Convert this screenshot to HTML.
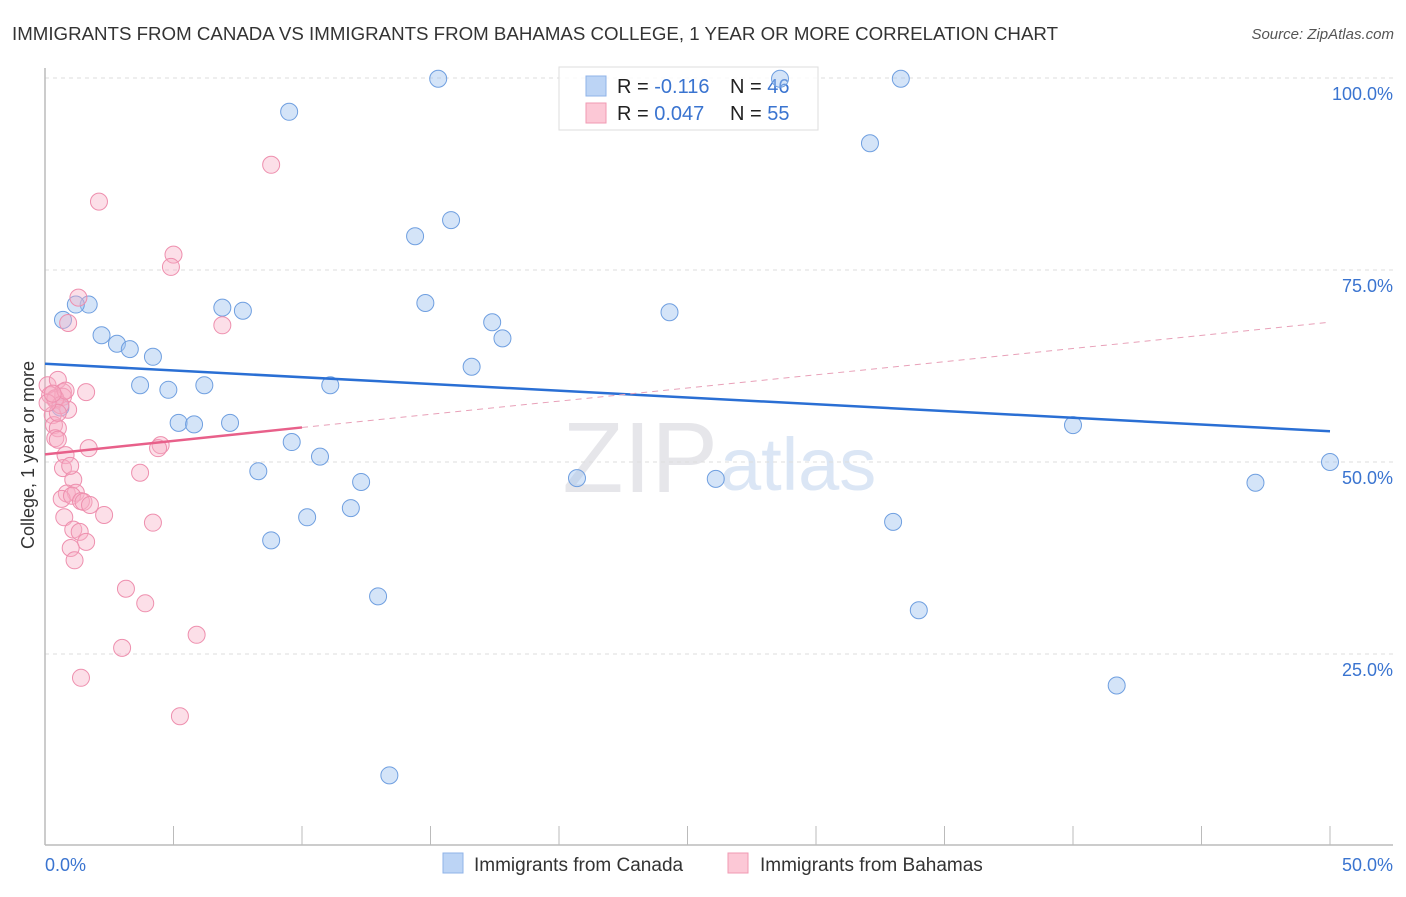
<!DOCTYPE html>
<html><head><meta charset="utf-8"><style>
body{margin:0;background:#fff;font-family:"Liberation Sans",sans-serif}
svg text{font-family:"Liberation Sans",sans-serif}
</style></head><body>
<svg id="chart" width="1406" height="892" xmlns="http://www.w3.org/2000/svg">
<text x="12" y="40" font-size="18" fill="#333" textLength="1046" lengthAdjust="spacingAndGlyphs">IMMIGRANTS FROM CANADA VS IMMIGRANTS FROM BAHAMAS COLLEGE, 1 YEAR OR MORE CORRELATION CHART</text>
<text x="1394" y="39" font-size="15" fill="#555" font-style="italic" text-anchor="end">Source: ZipAtlas.com</text>
<text x="718" y="492" font-size="100" fill="#e6e6ea" text-anchor="end" font-family="Liberation Serif">ZIP</text>
<text x="720" y="490" font-size="74" fill="#dbe6f5">atlas</text>
<text transform="translate(34,455) rotate(-90)" font-size="18" fill="#333" text-anchor="middle">College, 1 year or more</text>
<g id="grid"></g><g id="axes"></g>
<g>
<rect x="559" y="67" width="259" height="63" fill="rgba(255,255,255,0.85)" stroke="#ddd"/>
<rect x="586" y="76" width="20" height="20" fill="#bcd4f5" stroke="#8fb3e8"/>
<rect x="586" y="103" width="20" height="20" fill="#fcc8d6" stroke="#f09ab3"/>
<text x="617" y="93" font-size="20" fill="#222">R = <tspan fill="#3a74d0">-0.116</tspan></text>
<text x="730" y="93" font-size="20" fill="#222">N = <tspan fill="#3a74d0">46</tspan></text>
<text x="617" y="120" font-size="20" fill="#222">R = <tspan fill="#3a74d0">0.047</tspan></text>
<text x="730" y="120" font-size="20" fill="#222">N = <tspan fill="#3a74d0">55</tspan></text>
</g>
<g id="marks"></g>
<g>
<rect x="443" y="853" width="20" height="20" fill="#bcd4f5" stroke="#8fb3e8"/>
<text x="474" y="871" font-size="19" fill="#333">Immigrants from Canada</text>
<rect x="728" y="853" width="20" height="20" fill="#fcc8d6" stroke="#f09ab3"/>
<text x="760" y="871" font-size="19" fill="#333">Immigrants from Bahamas</text>
</g>
</svg>
<script>
const yTicks=[25,50,75,100];
const yTickLabels=["25.0%","50.0%","75.0%","100.0%"];
const xTickLabels=["0.0%","50.0%"];
const canadaX=[15.3,9.5,28.6,33.3,32.1,15.8,14.4,14.8,1.7,1.2,0.7,6.9,7.7,24.3,17.4,17.8,2.2,2.8,3.3,4.2,16.6,3.7,4.8,6.2,11.1,5.2,5.8,7.2,40.0,9.6,10.7,8.3,12.3,20.7,26.1,50.0,47.1,11.9,10.2,33.0,8.8,12.96,34.0,41.7,13.4,0.6];
const canadaY=[99.9,95.6,99.9,99.9,91.5,81.5,79.4,70.7,70.5,70.5,68.5,70.1,69.7,69.5,68.2,66.1,66.5,65.4,64.7,63.7,62.4,60.0,59.4,60.0,60.0,55.1,54.9,55.1,54.8,52.6,50.7,48.8,47.4,47.9,47.8,50.0,47.3,44.0,42.8,42.2,39.8,32.5,30.7,20.9,9.2,57.1];
const bahamasX=[8.8,2.1,5.0,4.9,1.3,0.9,6.9,0.1,0.5,1.6,0.7,0.2,0.7,0.4,0.9,0.3,0.35,0.5,0.4,0.5,1.7,4.5,4.4,0.8,0.7,3.7,1.1,0.85,1.2,0.65,1.05,1.4,1.5,2.3,0.75,4.2,1.1,1.35,1.6,1.0,1.15,3.15,3.9,5.9,3.0,1.4,5.25,0.4,0.6,0.8,0.5,0.1,0.98,0.3,1.75];
const bahamasY=[88.7,83.9,77.0,75.4,71.4,68.1,67.8,60.0,60.7,59.1,59.1,58.7,58.5,58.1,56.8,56.1,54.8,54.4,53.1,52.9,51.8,52.2,51.8,50.9,49.2,48.6,47.7,45.9,46.0,45.2,45.6,44.9,44.8,43.1,42.8,42.1,41.2,40.9,39.6,38.8,37.2,33.5,31.6,27.5,25.8,21.9,16.9,58.3,57.4,59.3,56.4,57.7,49.5,58.9,44.4];
const canadaTrend=[[0,62.8],[50,54.0]];
const bahamasTrendSolid=[[0,51.0],[10,54.5]];
const bahamasTrendDash=[[10,54.5],[50,68.2]];
const NS="http://www.w3.org/2000/svg";
const X=v=>45+v*25.7, Y=v=>846-v*7.68;
function mk(tag,attrs,parent){const e=document.createElementNS(NS,tag);for(const k in attrs)e.setAttribute(k,attrs[k]);document.getElementById(parent).appendChild(e);return e;}
yTicks.forEach((t,i)=>{
 const g=mk('line',{x1:45,x2:1393,y1:Y(t),y2:Y(t),stroke:'#ddd','stroke-dasharray':'4,4'},'grid');
 
 
 const l=mk('text',{x:1393,y:Y(t)+22,'font-size':18,fill:'#3a74d0','text-anchor':'end'},'grid');
 l.textContent=yTickLabels[i];
 
 
});
const ax=mk('line',{x1:45,x2:1393,y1:845,y2:845,stroke:'#bbb','stroke-width':1.5},'axes');


const ay=mk('line',{x1:45,x2:45,y1:68,y2:845,stroke:'#bbb','stroke-width':1.5},'axes');


for(let i=0;i<=10;i++){
 const t=mk('line',{x1:X(i*5),x2:X(i*5),y1:826,y2:845,stroke:'#bbb'},'axes');
 
 
}
[[0,'start',45],[50,'end',1393]].forEach((d,i)=>{
 const l=mk('text',{x:d[2],y:871,'font-size':18,fill:'#3a74d0','text-anchor':d[1]},'axes');
 l.textContent=xTickLabels[i];
 
 
});
canadaX.forEach((v,i)=>{
 const c=mk('circle',{cx:X(v),cy:Y(canadaY[i]),r:8.5,fill:'rgba(160,196,240,0.45)',stroke:'#6f9fe0','stroke-width':1},'marks');
 
 
});
bahamasX.forEach((v,i)=>{
 const c=mk('circle',{cx:X(v),cy:Y(bahamasY[i]),r:8.5,fill:'rgba(248,176,198,0.4)',stroke:'#ee8fae','stroke-width':1},'marks');
 
 
});
const t1=mk('line',{x1:X(canadaTrend[0][0]),y1:Y(canadaTrend[0][1]),x2:X(canadaTrend[1][0]),y2:Y(canadaTrend[1][1]),stroke:'#2a6fd4','stroke-width':2.5},'marks');


const t2=mk('line',{x1:X(bahamasTrendSolid[0][0]),y1:Y(bahamasTrendSolid[0][1]),x2:X(bahamasTrendSolid[1][0]),y2:Y(bahamasTrendSolid[1][1]),stroke:'#e8608a','stroke-width':2.5},'marks');


const t3=mk('line',{x1:X(bahamasTrendDash[0][0]),y1:Y(bahamasTrendDash[0][1]),x2:X(bahamasTrendDash[1][0]),y2:Y(bahamasTrendDash[1][1]),stroke:'#e8a0b8','stroke-width':1,'stroke-dasharray':'6,5'},'marks');


</script>
</body></html>
